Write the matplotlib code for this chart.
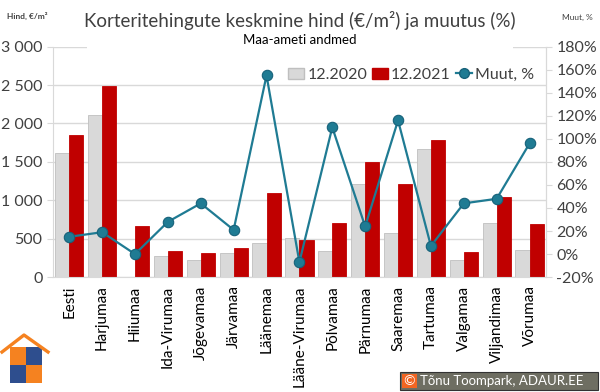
import matplotlib.pyplot as plt
import matplotlib.patches as mpatches
from matplotlib.lines import Line2D
from matplotlib.ticker import FuncFormatter, MultipleLocator
import numpy as np

plt.rcParams['font.family'] = ['Lato', 'DejaVu Sans']

# Data
regions = ["Eesti", "Harjumaa", "Hiiumaa", "Ida-Virumaa", "Jõgevamaa", "Järvamaa",
           "Läänemaa", "Lääne-Virumaa", "Põlvamaa", "Pärnumaa", "Saaremaa",
           "Tartumaa", "Valgamaa", "Viljandimaa", "Võrumaa"]
price_2020 = [1610, 2110, 0, 270, 218, 318, 439, 514, 335, 1218, 570, 1669, 227, 700, 357]
price_2021 = [1848, 2491, 661, 335, 313, 378, 1091, 478, 700, 1500, 1218, 1783, 322, 1039, 687]
change_pct = [15, 19, 0, 28, 44, 21, 155, -7, 110, 24, 116, 7, 44, 48, 96]

GRAY = "#D9D9D9"
RED = "#C00000"
TEAL = "#1F7B93"
TXT = "#404040"

fig = plt.figure(figsize=(6, 3.92), dpi=100)
ax = fig.add_axes([0.088, 0.293, 0.822, 0.588])

x = np.arange(len(regions))
w = 0.43
ax.bar(x - w / 2, price_2020, w, color=GRAY, edgecolor="#BFBFBF", linewidth=0.6, zorder=2)
ax.bar(x + w / 2, price_2021, w, color=RED, edgecolor=RED, linewidth=0.6, zorder=2)

ax.set_xlim(-0.5, len(regions) - 0.5)
ax.set_ylim(0, 3000)
ax.yaxis.set_major_locator(MultipleLocator(500))
ax.yaxis.set_major_formatter(FuncFormatter(lambda v, p: f"{int(v):,}".replace(",", " ")))
ax.grid(axis="y", color="#D9D9D9", linewidth=1, zorder=0)
ax.set_axisbelow(True)
ax.set_xticks(x)
ax.set_xticklabels(regions, rotation=90, fontsize=11, color="black")
ax.tick_params(axis="x", length=0, pad=6)
ax.tick_params(axis="y", length=4, color="#D9D9D9", labelsize=11.5, labelcolor=TXT)
ax.spines["top"].set_visible(False)
for s in ["left", "right", "bottom"]:
    ax.spines[s].set_color("#D9D9D9")

ax2 = ax.twinx()
ax2.plot(x, change_pct, color=TEAL, linewidth=1.6, marker="o", markersize=7.5,
         markerfacecolor=TEAL, markeredgecolor="#17627A", markeredgewidth=0.8, zorder=3)
ax2.set_ylim(-20, 180)
ax2.yaxis.set_major_locator(MultipleLocator(20))
ax2.yaxis.set_major_formatter(FuncFormatter(lambda v, p: f"{int(v)}%"))
ax2.tick_params(axis="y", length=4, color="#D9D9D9", labelsize=11.5, labelcolor=TXT)
for s in ["top", "left", "bottom"]:
    ax2.spines[s].set_visible(False)
ax2.spines["right"].set_color("#D9D9D9")

# legend
handles = [mpatches.Patch(facecolor=GRAY, edgecolor="#BFBFBF", label="12.2020"),
           mpatches.Patch(facecolor=RED, edgecolor=RED, label="12.2021"),
           Line2D([0], [0], color=TEAL, marker="o", markersize=7, markeredgecolor="#17627A",
                  linewidth=1.6, label="Muut, %")]
leg = ax2.legend(handles=handles, loc="upper right", bbox_to_anchor=(0.995, 0.95), ncol=3,
                 frameon=False, fontsize=11.5, handlelength=1.0, handletextpad=0.2,
                 columnspacing=0.3, borderaxespad=0.2)
for t in leg.get_texts():
    t.set_color(TXT)

# white box behind title that breaks the top gridline
fig.patches.append(mpatches.Rectangle((87 / 600, 1 - 50 / 392), 426 / 600, 50 / 392,
                                      transform=fig.transFigure, facecolor="white",
                                      edgecolor="none", zorder=1))
fig.text(0.5, 1 - 20 / 392, "Korteritehingute keskmine hind (€/m²) ja muutus (%)",
         ha="center", va="center", fontsize=13.5, color=TXT, zorder=3)
fig.text(0.5, 1 - 40 / 392, "Maa-ameti andmed", ha="center", va="center",
         fontsize=9.5, color="black", zorder=3)
fig.text(7 / 600, 1 - 16 / 392, "Hind, €/m²", ha="left", va="center", fontsize=6,
         fontweight="bold", color=TXT)
fig.text(593 / 600, 1 - 17 / 392, "Muut, %", ha="right", va="center", fontsize=6,
         color=TXT)

# logo (simple puzzle house)
def px(xp, yp):
    return xp / 600, 1 - yp / 392

ORANGE = "#F58220"
BLUE = "#2E4E8E"
fig.lines.append(Line2D([2 / 600, 24 / 600, 48 / 600],
                        [1 - 352 / 392, 1 - 335 / 392, 1 - 352 / 392],
                        transform=fig.transFigure, color=ORANGE, linewidth=2.4))
for (xp, yp, c) in [(10, 347, ORANGE), (26, 347, BLUE), (10, 365, BLUE), (26, 365, ORANGE)]:
    fig.patches.append(mpatches.Rectangle(px(xp, yp + 18), 16 / 600, 18 / 392,
                                          transform=fig.transFigure, facecolor=c,
                                          edgecolor="none"))

# copyright box
fig.patches.append(mpatches.Rectangle(px(400, 390), 198 / 600, 18 / 392,
                                      transform=fig.transFigure, facecolor="#6E6E62",
                                      edgecolor="#333333", linewidth=0.8))
fig.patches.append(mpatches.Rectangle(px(402, 388), 15 / 600, 14 / 392,
                                      transform=fig.transFigure, facecolor="#F26522",
                                      edgecolor="none"))
fig.text(409.5 / 600, 1 - 381 / 392, "©", ha="center", va="center", fontsize=10, color="white")
fig.text(420 / 600, 1 - 381 / 392, "Tõnu Toompark, ADAUR.EE", ha="left", va="center",
         fontsize=9.5, color="white")

fig.savefig("out.png", dpi=100)
